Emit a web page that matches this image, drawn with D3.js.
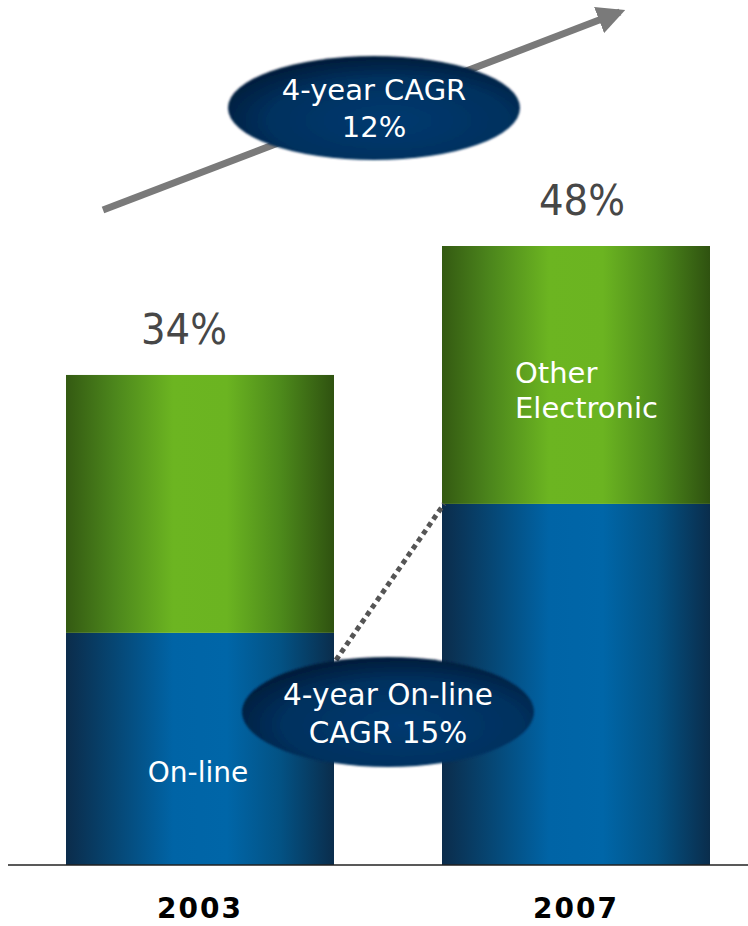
<!DOCTYPE html>
<html>
<head>
<meta charset="utf-8">
<script src="https://cdn.jsdelivr.net/npm/d3@7/dist/d3.min.js"></script>
<style>
  html, body { margin: 0; padding: 0; background: #fff; }
  svg { display: block; }
  text { font-family: "DejaVu Sans", sans-serif; }
</style>
</head>
<body>
<svg id="chart" width="748" height="926"></svg>
<script>
// Share of payments by channel (stacked), per year
const years = ["2003", "2007"];
const online = [6, 20];
const otherElectronic = [28, 28];
const totalLabels = ["34%", "48%"];
const seriesKeys = ["online", "other"];
const overallCagr = ["4-year CAGR", "12%"];
const onlineCagr = ["4-year On-line", "CAGR 15%"];

const W = 748, H = 926;
const baseY = 865;
const svg = d3.select("#chart");
const defs = svg.append("defs");

// horizontal shading across each bar
function barGradient(id, stops) {
  const g = defs.append("linearGradient").attr("id", id)
    .attr("x1", "0%").attr("x2", "100%").attr("y1", "0%").attr("y2", "0%");
  stops.forEach(([o, c]) => g.append("stop").attr("offset", o).attr("stop-color", c));
}
barGradient("gBlue", [["0%", "#0b2c4b"], ["18%", "#064673"], ["40%", "#0064a6"], ["60%", "#0066a8"], ["80%", "#035284"], ["100%", "#0a2d4c"]]);
barGradient("gGreen", [["0%", "#345a12"], ["18%", "#4c861c"], ["40%", "#6cb521"], ["60%", "#6bb421"], ["80%", "#4d8a1b"], ["100%", "#2f5210"]]);

const eg = defs.append("radialGradient").attr("id", "gOval")
  .attr("cx", "55%").attr("cy", "62%").attr("r", "62%");
eg.append("stop").attr("offset", "0%").attr("stop-color", "#063a70");
eg.append("stop").attr("offset", "65%").attr("stop-color", "#04315f");
eg.append("stop").attr("offset", "100%").attr("stop-color", "#061c3a");

const soft = defs.append("filter").attr("id", "softEdge")
  .attr("x", "-5%").attr("y", "-10%").attr("width", "110%").attr("height", "120%");
soft.append("feGaussianBlur").attr("stdDeviation", 0.8);

const arrowM = defs.append("marker").attr("id", "arrowHead")
  .attr("viewBox", "0 0 10 10").attr("refX", 8).attr("refY", 5)
  .attr("markerWidth", 4).attr("markerHeight", 4)
  .attr("markerUnits", "strokeWidth").attr("orient", "auto");
arrowM.append("path").attr("d", "M0,0 L10,5 L0,10 Z").attr("fill", "#7a7a7a");

// scales: the value axis starts below zero so the lower segment keeps its visual weight
const x = d3.scaleBand().domain(years).range([66, 710]).paddingInner(108 / 376).paddingOuter(0);
const y = d3.scaleLinear().domain([-19.2, 48]).range([baseY, 246]);

const rows = years.map((yr, i) => ({ year: yr, online: online[i], other: otherElectronic[i] }));
const stacked = d3.stack().keys(seriesKeys)(rows);
const fills = { online: "url(#gBlue)", other: "url(#gGreen)" };

svg.append("g").selectAll("g").data(stacked).join("g")
  .attr("fill", d => fills[d.key])
  .selectAll("rect").data(d => d).join("rect")
  .attr("x", d => x(d.data.year))
  .attr("width", x.bandwidth())
  .attr("y", d => y(d[1]))
  .attr("height", d => (d[0] === 0 ? baseY : y(d[0])) - y(d[1]));

// baseline
svg.append("line").attr("x1", 8).attr("x2", W).attr("y1", baseY).attr("y2", baseY)
  .attr("stroke", "#222").attr("stroke-width", 1.5);

// year labels
svg.append("g").selectAll("text").data(years).join("text")
  .attr("x", d => x(d) + x.bandwidth() / 2).attr("y", 918)
  .attr("text-anchor", "middle").attr("font-size", 28).attr("font-weight", "bold")
  .attr("letter-spacing", 2).attr("fill", "#000").text(d => d);

// totals above bars
const totals = years.map((yr, i) => online[i] + otherElectronic[i]);
const totalShift = [-16, 6];
svg.append("g").selectAll("text").data(years).join("text")
  .attr("x", (d, i) => x(d) + x.bandwidth() / 2 + totalShift[i])
  .attr("y", (d, i) => y(totals[i]) - 31)
  .attr("text-anchor", "middle").attr("font-size", 43).attr("fill", "#474747")
  .style("font-family", "'DejaVu Sans Condensed', 'DejaVu Sans', sans-serif")
  .text((d, i) => totalLabels[i]);

// segment labels
const onCenter = x("2003") + x.bandwidth() / 2 - 2;
svg.append("text").attr("x", onCenter).attr("y", 782).attr("text-anchor", "middle")
  .attr("font-size", 28).attr("fill", "#fff").text("On-line");
const otherX = x("2007") + 73;
svg.append("text").attr("x", otherX).attr("y", 383).attr("font-size", 29).attr("fill", "#fff").text("Other");
svg.append("text").attr("x", otherX).attr("y", 418).attr("font-size", 29).attr("fill", "#fff").text("Electronic");

// overall growth arrow
svg.append("line").attr("x1", 103).attr("y1", 210).attr("x2", 620).attr("y2", 12)
  .attr("stroke", "#7a7a7a").attr("stroke-width", 7).attr("marker-end", "url(#arrowHead)");

// dotted connector between on-line segment tops
svg.append("line")
  .attr("x1", x("2003") + x.bandwidth() + 2).attr("y1", 660)
  .attr("x2", x("2007") + 2).attr("y2", y(online[1]))
  .attr("stroke", "#555").attr("stroke-width", 5).attr("stroke-dasharray", "5 4");

function oval(cx, cy, rx, ry, lines, fs, base0, gap) {
  const g = svg.append("g");
  g.append("ellipse").attr("cx", cx).attr("cy", cy).attr("rx", rx).attr("ry", ry)
    .attr("fill", "url(#gOval)").attr("filter", "url(#softEdge)");
  g.selectAll("text").data(lines).join("text")
    .attr("x", cx).attr("y", (d, i) => base0 + i * gap)
    .attr("text-anchor", "middle").attr("font-size", fs).attr("fill", "#fff").text(d => d);
}
oval(374, 108, 146, 52, overallCagr, 29, 100, 37);
oval(388, 712, 146, 55, onlineCagr, 29.5, 705, 38);
</script>
</body>
</html>
